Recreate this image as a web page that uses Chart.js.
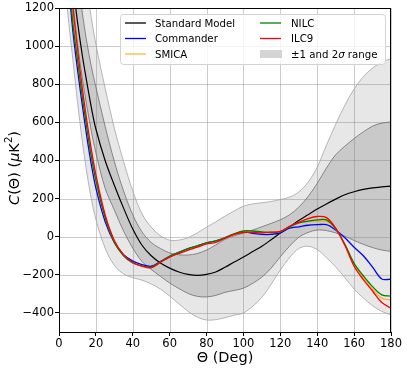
<!DOCTYPE html>
<html>
<head>
<meta charset="utf-8">
<script src="https://cdn.jsdelivr.net/npm/chart.js@4.4.0/dist/chart.umd.min.js"></script>
<style>
  html, body { margin: 0; padding: 0; background: #fff; }
  canvas { display: block; }
</style>
</head>
<body>
<canvas id="corrChart" width="407" height="369"></canvas>
<script>
// angular separation (deg)
const theta = [2.5, 5, 7.5, 10, 12.5, 15, 17.5, 20, 25, 30, 35, 40, 45, 50, 55, 60, 65, 70, 75, 80,
  85, 90, 95, 100, 105, 110, 115, 120, 125, 130, 135, 140, 145, 150, 155, 160, 165, 170, 175, 180];

const standardModel = [1850, 1560, 1330, 1130, 960, 815, 680, 565, 400, 270, 150, 40, -45, -100, -138, -165, -185, -198, -203, -198,
  -185, -160, -133, -107, -78, -50, -16, 19, 52, 85, 115, 145, 172, 197, 220, 236, 248, 256, 261, 265];
const commander = [1650, 1350, 1080, 880, 700, 530, 380, 255, 80, -30, -95, -128, -146, -155, -130, -103, -82, -63, -48, -33,
  -22, -6, 14, 25, 18, 12, 12, 20, 45, 52, 60, 63, 63, 35, -6, -55, -100, -160, -222, -223];
const smica = [1750, 1450, 1160, 960, 765, 595, 440, 310, 108, -25, -98, -137, -154, -162, -134, -105, -85, -66, -50, -35,
  -24, -7, 13, 26, 27, 23, 23, 27, 53, 72, 80, 82, 82, 43, -45, -145, -215, -275, -322, -333];
const nilc = [1700, 1400, 1120, 930, 740, 575, 420, 295, 100, -30, -100, -138, -153, -160, -132, -103, -82, -63, -48, -32,
  -22, -5, 15, 30, 30, 25, 22, 26, 52, 72, 82, 88, 88, 42, -40, -140, -205, -262, -305, -312];
const ilc9 = [1800, 1500, 1210, 990, 790, 615, 460, 325, 115, -20, -95, -135, -155, -163, -135, -107, -88, -70, -55, -38,
  -30, -8, 12, 22, 22, 20, 24, 28, 55, 75, 95, 106, 100, 45, -45, -155, -225, -285, -345, -375];

// 1 and 2 sigma envelopes around the standard model
const sig1Upper = [2300, 1900, 1600, 1380, 1185, 1025, 895, 785, 580, 395, 240, 115, 25, -30, -62, -85, -95, -96, -88, -70,
  -43, -14, 5, 19, 35, 52, 70, 89, 115, 155, 210, 280, 360, 430, 475, 515, 550, 580, 596, 602];
const sig1Lower = [1700, 1450, 1230, 1020, 840, 690, 555, 440, 255, 140, 30, -60, -130, -172, -208, -243, -272, -298, -313, -316,
  -308, -292, -282, -270, -245, -212, -165, -105, -50, -3, 22, 35, 32, 20, 2, -20, -40, -57, -70, -77];
const sig2Upper = [2700, 2300, 1950, 1700, 1500, 1310, 1150, 1010, 780, 570, 395, 240, 120, 50, 5, -18, -18, -5, 20, 50,
  78, 108, 135, 160, 172, 178, 185, 195, 208, 235, 285, 365, 480, 590, 690, 775, 840, 885, 915, 935];
const sig2Lower = [1400, 1150, 930, 710, 510, 340, 200, 90, -60, -150, -195, -215, -228, -248, -275, -312, -352, -392, -422, -437,
  -435, -425, -412, -400, -365, -318, -250, -175, -110, -62, -50, -68, -110, -158, -215, -275, -322, -362, -392, -410];

const xTicks = [0, 20, 40, 60, 80, 100, 120, 140, 160, 180];
const yTicks = [-400, -200, 0, 200, 400, 600, 800, 1000, 1200];

const FONT = "'DejaVu Sans', sans-serif";
const LIGHT_BAND = "rgb(231,231,231)";
const DARK_BAND = "rgb(201,201,201)";

function pts(vals) {
  return theta.map((t, i) => ({ x: t, y: vals[i] }));
}

function lineSet(label, vals, color, order, width) {
  return { label: label, data: pts(vals), borderColor: color, borderWidth: width || 1.3, fill: false, order: order };
}

// matplotlib puts the grid above the filled bands but under the curves
const gridOverBands = {
  id: "gridOverBands",
  beforeDatasetsDraw(chart) {
    const { ctx, chartArea: a, scales } = chart;
    ctx.save();
    ctx.strokeStyle = "rgba(128,128,128,0.4)";
    ctx.lineWidth = 1;
    ctx.beginPath();
    xTicks.forEach((v) => {
      const px = Math.round(scales.x.getPixelForValue(v)) + 0.5;
      ctx.moveTo(px, a.top);
      ctx.lineTo(px, a.bottom);
    });
    yTicks.forEach((v) => {
      const py = Math.round(scales.y.getPixelForValue(v)) + 0.5;
      ctx.moveTo(a.left, py);
      ctx.lineTo(a.right, py);
    });
    ctx.stroke();
    ctx.restore();
  },
};

const frameAndTitles = {
  id: "frameAndTitles",
  afterDatasetsDraw(chart) {
    const { ctx, chartArea: a } = chart;
    ctx.save();
    ctx.strokeStyle = "#000";
    ctx.lineWidth = 1;
    ctx.strokeRect(Math.round(a.left) + 0.5, Math.round(a.top) + 0.5, Math.round(a.right - a.left) - 1, Math.round(a.bottom - a.top));
    ctx.restore();
  },
  afterDraw(chart) {
    const { ctx, chartArea: a } = chart;
    ctx.save();
    ctx.fillStyle = "#000";

    // x title
    ctx.font = "14.5px " + FONT;
    ctx.textAlign = "center";
    ctx.textBaseline = "alphabetic";
    ctx.fillText("\u0398 (Deg)", (a.left + a.right) / 2, 361.5);

    // y title with math-style parts
    const size = 14.5;
    const parts = [
      { t: "C", s: "italic " },
      { t: "(\u0398) (", s: "" },
      { t: "\u03bc", s: "italic " },
      { t: "K", s: "" },
      { t: "2", s: "", sup: true },
      { t: ")", s: "" },
    ];
    let total = 0;
    parts.forEach((p) => {
      ctx.font = p.s + (p.sup ? size * 0.7 : size) + "px " + FONT;
      p.w = ctx.measureText(p.t).width;
      total += p.w;
    });
    ctx.translate(18.5, 168);
    ctx.rotate(-Math.PI / 2);
    ctx.textAlign = "left";
    let cx = -total / 2;
    parts.forEach((p) => {
      ctx.font = p.s + (p.sup ? size * 0.7 : size) + "px " + FONT;
      ctx.fillText(p.t, cx, p.sup ? -size * 0.42 : 0);
      cx += p.w;
    });
    ctx.restore();

    // legend box
    ctx.save();
    const bx = 120.5, by = 14.5, bw = 265, bh = 50, r = 3;
    ctx.beginPath();
    ctx.moveTo(bx + r, by);
    ctx.arcTo(bx + bw, by, bx + bw, by + bh, r);
    ctx.arcTo(bx + bw, by + bh, bx, by + bh, r);
    ctx.arcTo(bx, by + bh, bx, by, r);
    ctx.arcTo(bx, by, bx + bw, by, r);
    ctx.closePath();
    ctx.fillStyle = "rgba(255,255,255,0.8)";
    ctx.fill();
    ctx.strokeStyle = "rgb(210,210,210)";
    ctx.lineWidth = 1;
    ctx.stroke();

    const ds = chart.data.datasets;
    const rows = [23, 38.5, 54];
    const cols = [{ hx: 125, tx: 155 }, { hx: 260, tx: 291 }];
    const entries = [0, 1, 2, 3, 4];
    ctx.font = "10.2px " + FONT;
    ctx.textAlign = "left";
    ctx.textBaseline = "alphabetic";
    entries.forEach((di, k) => {
      const col = cols[Math.floor(k / 3)];
      const yy = rows[k % 3];
      ctx.strokeStyle = ds[di].borderColor;
      ctx.lineWidth = 1.3;
      ctx.beginPath();
      ctx.moveTo(col.hx, yy);
      ctx.lineTo(col.hx + 21, yy);
      ctx.stroke();
      ctx.fillStyle = "#000";
      ctx.fillText(ds[di].label, col.tx, yy + 3.8);
    });
    // band patch entry
    ctx.fillStyle = "rgb(212,212,212)";
    ctx.fillRect(cols[1].hx, rows[2] - 4, 22, 8);
    ctx.fillStyle = "#000";
    let lx = cols[1].tx;
    const by3 = rows[2] + 3.8;
    ctx.fillText("\u00b11 and 2", lx, by3);
    lx += ctx.measureText("\u00b11 and 2").width;
    ctx.font = "italic 10.2px " + FONT;
    ctx.fillText("\u03c3", lx, by3);
    lx += ctx.measureText("\u03c3").width;
    ctx.font = "10.2px " + FONT;
    ctx.fillText(" range", lx, by3);
    ctx.restore();
  },
};

document.addEventListener("DOMContentLoaded", function () {
  const canvas = document.getElementById("corrChart");
  const ctx = canvas.getContext("2d");

  new Chart(ctx, {
    type: "line",
    data: {
      datasets: [
        lineSet("Standard Model", standardModel, "#000000", 4, 1.2),
        lineSet("Commander", commander, "#0000ff", 3),
        lineSet("SMICA", smica, "rgba(255,165,0,0.8)", 2),
        lineSet("NILC", nilc, "#008000", 1),
        lineSet("ILC9", ilc9, "#ff0000", 0),
        { label: "1 sigma upper", data: pts(sig1Upper), borderColor: "rgb(110,110,110)", borderWidth: 0.8, backgroundColor: DARK_BAND, fill: "+1", order: 5 },
        { label: "1 sigma lower", data: pts(sig1Lower), borderColor: "rgb(110,110,110)", borderWidth: 0.8, fill: false, order: 6 },
        { label: "2 sigma upper", data: pts(sig2Upper), borderColor: "rgb(165,165,165)", borderWidth: 0.8, backgroundColor: LIGHT_BAND, fill: "+1", order: 7 },
        { label: "2 sigma lower", data: pts(sig2Lower), borderColor: "rgb(165,165,165)", borderWidth: 0.8, fill: false, order: 8 },
      ],
    },
    options: {
      responsive: false,
      animation: false,
      layout: { padding: { top: 8, right: 16, left: 0, bottom: 0 } },
      elements: {
        point: { radius: 0 },
        line: { tension: 0.35 },
      },
      plugins: {
        legend: { display: false },
        tooltip: { enabled: false },
        filler: { drawTime: "beforeDatasetsDraw" },
      },
      scales: {
        x: {
          type: "linear",
          min: 0,
          max: 180,
          afterBuildTicks: (s) => { s.ticks = xTicks.map((v) => ({ value: v })); },
          afterFit: (s) => { s.height = 37; },
          grid: { drawOnChartArea: false, tickLength: 4, tickColor: "#000" },
          border: { display: false },
          ticks: { color: "#000", padding: 1, maxRotation: 0, font: { family: FONT, size: 11.5 } },
        },
        y: {
          type: "linear",
          min: -500,
          max: 1200,
          afterBuildTicks: (s) => { s.ticks = yTicks.map((v) => ({ value: v })); },
          afterFit: (s) => { s.width = 59; },
          grid: { drawOnChartArea: false, tickLength: 4, tickColor: "#000" },
          border: { display: false },
          ticks: {
            color: "#000",
            padding: 1,
            font: { family: FONT, size: 11.5 },
            callback: (v) => (v < 0 ? "\u2212" + Math.abs(v) : String(v)),
          },
        },
      },
    },
    plugins: [gridOverBands, frameAndTitles],
  });
});
</script>
</body>
</html>
